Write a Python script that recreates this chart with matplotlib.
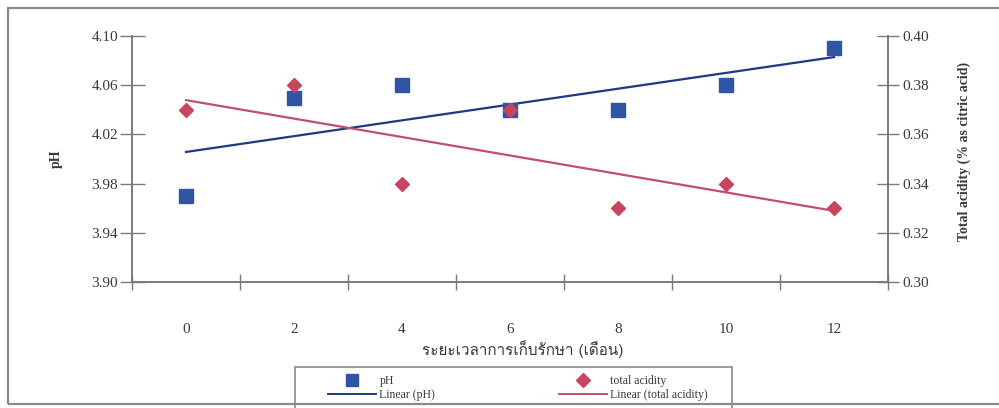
import matplotlib
matplotlib.use("Agg")
import matplotlib.pyplot as plt
import numpy as np
from matplotlib import font_manager
from matplotlib.ft2font import FT2Font
from matplotlib.lines import Line2D
from matplotlib.patches import Rectangle

# Storage time (months) and measured values
months = [0, 2, 4, 6, 8, 10, 12]
ph_values = [3.97, 4.05, 4.06, 4.04, 4.04, 4.06, 4.09]
acidity_values = [0.37, 0.38, 0.34, 0.37, 0.33, 0.34, 0.33]

ph_ticks = [3.90, 3.94, 3.98, 4.02, 4.06, 4.10]
acid_ticks = [0.30, 0.32, 0.34, 0.36, 0.38, 0.40]

x_label = "ระยะเวลาการเก็บรักษา (เดือน)"
y_label_left = "pH"
y_label_right = "Total acidity (% as citric acid)"

BLUE = "#2f55a4"
BLUE_LINE = "#1f3a80"
RED = "#c9445e"
RED_LINE = "#c2506a"
AXIS = "#7a7a7a"
TEXT = "#3a3a3a"
SERIF = ["Liberation Serif", "DejaVu Serif"]


def family_with(ch):
    """Return the first installed family that has a glyph for ch."""
    for f in font_manager.fontManager.ttflist:
        try:
            if ord(ch) in FT2Font(f.fname).get_charmap():
                return f.name
        except Exception:
            continue
    return "DejaVu Sans"


thai_family = family_with("ร")

W, H = 999, 408
fig = plt.figure(figsize=(W / 100, H / 100), dpi=100)

# page frame around the chart
fig.patches.append(Rectangle((8 / W, 4 / H), (W - 6) / W, (H - 12) / H,
                             transform=fig.transFigure, fill=False,
                             edgecolor="#8a8a8a", lw=1.6))

left, right, bottom, top = 132 / W, 888 / W, 1 - 282 / H, 1 - 36 / H
ax = fig.add_axes([left, bottom, right - left, top - bottom])
ax2 = ax.twinx()

x = np.arange(len(months))

# scatter points
ax.plot(x, ph_values, ls="none", marker="s", ms=9.5, color=BLUE,
        mec=BLUE, zorder=3)
ax2.plot(x, acidity_values, ls="none", marker="D", ms=7.5, color=RED,
         mec=RED, zorder=3)

# linear trend lines
p_ph = np.polyfit(x, ph_values, 1)
p_ac = np.polyfit(x, acidity_values, 1)
xf = np.array([x[0], x[-1]])
ax.plot(xf, np.polyval(p_ph, xf), color=BLUE_LINE, lw=1.6, zorder=2)
ax2.plot(xf, np.polyval(p_ac, xf), color=RED_LINE, lw=1.6, zorder=2)

ax.set_xlim(-0.5, len(months) - 0.5)
ax.set_ylim(3.90, 4.10)
ax2.set_ylim(0.30, 0.40)

# category labels at centres, tick marks at boundaries
ax.set_xticks(x)
ax.set_xticklabels([str(m) for m in months], fontfamily=SERIF, fontsize=11,
                   color=TEXT)
ax.set_xticks(np.arange(-0.5, len(months)), minor=True)
ax.tick_params(axis="x", which="major", length=0, pad=29.5)
ax.tick_params(axis="x", which="minor", length=12, direction="inout",
               color=AXIS, width=1)

ax.set_yticks(ph_ticks)
ax.set_yticklabels([f"{v:.2f}" for v in ph_ticks], fontfamily=SERIF,
                   fontsize=11, color=TEXT)
ax.tick_params(axis="y", length=18, direction="inout", color=AXIS, width=1,
               pad=1)

ax2.set_yticks(acid_ticks)
ax2.set_yticklabels([f"{v:.2f}" for v in acid_ticks], fontfamily=SERIF,
                    fontsize=11, color=TEXT)
ax2.tick_params(axis="y", length=16, direction="inout", color=AXIS, width=1,
                pad=2)

for a in (ax, ax2):
    a.spines["top"].set_visible(False)
    for s in ("left", "right", "bottom"):
        a.spines[s].set_color(AXIS)
        a.spines[s].set_linewidth(1.2)
    a.patch.set_visible(False)

ax.set_ylabel(y_label_left, fontfamily=SERIF, fontsize=10,
              fontweight="bold", color=TEXT)
ax.yaxis.set_label_coords((63 - 132) / (888 - 132), 0.5)
ax2.set_ylabel(y_label_right, fontfamily=SERIF, fontsize=10,
               fontweight="bold", color=TEXT, rotation=90)
ax2.yaxis.set_label_coords((958 - 132) / (888 - 132), 0.53)

fig.text(523 / W, 1 - 349 / H, x_label, family=[thai_family, "DejaVu Sans"],
         fontsize=11, color=TEXT, ha="center", va="center")

# legend: frame drawn as a box, entries placed inside it
fig.patches.append(Rectangle((295 / W, -0.05), (732 - 295) / W,
                             1 - 367 / H + 0.05, transform=fig.transFigure,
                             fill=False, edgecolor="#8a8a8a", lw=1.2))
handles = [
    Line2D([], [], ls="none", marker="s", ms=9, color=BLUE),
    Line2D([], [], color=BLUE_LINE, lw=1.4),
    Line2D([], [], ls="none", marker="D", ms=7, color=RED),
    Line2D([], [], color=RED_LINE, lw=1.4),
]
labels = ["pH", "Linear (pH)", "total acidity", "Linear (total acidity)"]
leg_top = 1 - 375 / H
leg = fig.legend(handles, labels, loc="upper left", ncol=2,
                 bbox_to_anchor=(328 / W, leg_top - 0.2, (708 - 328) / W, 0.2),
                 mode="expand", frameon=False,
                 prop={"family": SERIF, "size": 8.5},
                 handlelength=4.1, handletextpad=0.25, labelspacing=0.2,
                 borderpad=0, borderaxespad=0)
for t in leg.get_texts():
    t.set_color(TEXT)

fig.savefig("out.png", dpi=100, facecolor="white")
